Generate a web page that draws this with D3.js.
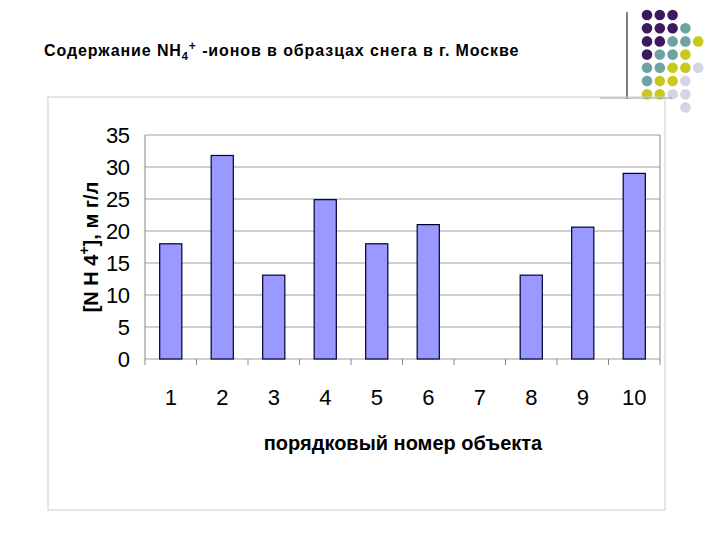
<!DOCTYPE html><html><head><meta charset="utf-8"><script src="https://d3js.org/d3.v7.min.js"></script>
<style>body{margin:0;background:#fff}</style></head><body><script>
const categories=["1","2","3","4","5","6","7","8","9","10"];
const values=[18,31.8,13.1,24.9,18,21,0,13.1,20.6,29];
const yTicks=[0,5,10,15,20,25,30,35];
const W=720,H=540;
const svg=d3.select("body").append("svg").attr("width",W).attr("height",H);
const font="Liberation Sans, Arial, sans-serif";
const P="#3d1a5e",T="#6fa3a3",Y="#c8c81e",L="#d4d4e6";
const dots=[[P,P,P],[P,P,P,T],[P,P,T,T,Y],[P,T,T,Y],[T,T,Y,Y,L],[T,Y,Y,L],[Y,Y,L,L],[null,null,null,L]];
dots.forEach((r,i)=>r.forEach((c,j)=>{if(c)svg.append("circle").attr("cx",647+j*12.8).attr("cy",15+i*13.2).attr("r",5.3).attr("fill",c);}));
svg.append("line").attr("x1",627).attr("x2",627).attr("y1",12).attr("y2",99).attr("stroke","#000");
svg.append("line").attr("x1",600).attr("x2",672).attr("y1",98).attr("y2",98).attr("stroke","#999");
svg.append("text").attr("x",44).attr("y",56).attr("font-family",font).attr("font-size",16).attr("font-weight","bold").attr("letter-spacing",0.9)
 .html('Содержание NH<tspan font-size="11" dy="4">4</tspan><tspan font-size="12" dy="-10">+</tspan><tspan dy="6"> -ионов в образцах снега в г. Москве</tspan>');
svg.append("rect").attr("x",48).attr("y",97).attr("width",617).attr("height",413).attr("fill","none").attr("stroke","#ccc");
const m={l:145,r:660,t:135,b:359};
const x=d3.scaleBand().domain(categories).range([m.l,m.r]).paddingInner(0.57).paddingOuter(0.285);
const y=d3.scaleLinear().domain([0,35]).range([m.b,m.t]);
const g=svg.append("g");
g.selectAll(".gl").data(yTicks).join("line").attr("x1",m.l).attr("x2",m.r).attr("y1",d=>y(d)).attr("y2",d=>y(d)).attr("stroke","#888").attr("stroke-width",0.8);
g.append("line").attr("x1",m.l).attr("x2",m.l).attr("y1",m.t).attr("y2",m.b).attr("stroke","#888");
g.append("line").attr("x1",m.r).attr("x2",m.r).attr("y1",m.t).attr("y2",m.b).attr("stroke","#888");
const step=(m.r-m.l)/10;
d3.range(11).forEach(i=>g.append("line").attr("x1",m.l+i*step).attr("x2",m.l+i*step).attr("y1",m.b).attr("y2",m.b+6).attr("stroke","#888"));
g.selectAll(".bar").data(values).join("rect").attr("x",(d,i)=>x(categories[i])).attr("width",x.bandwidth())
 .attr("y",d=>y(d)).attr("height",d=>m.b-y(d)).attr("fill","#9999ff").attr("stroke","#000033").attr("stroke-width",1.2);
g.selectAll(".yt").data(yTicks).join("text").attr("x",130).attr("y",d=>y(d)+8).attr("text-anchor","end")
 .attr("font-family",font).attr("font-size",22).attr("textLength",d=>String(d).length>1?24:12).text(d=>d);
g.selectAll(".xt").data(categories).join("text").attr("x",d=>x(d)+x.bandwidth()/2).attr("y",405).attr("text-anchor","middle")
 .attr("font-family",font).attr("font-size",22).text(d=>d);
svg.append("text").attr("x",403).attr("y",450).attr("text-anchor","middle").attr("font-family",font).attr("font-size",20).attr("font-weight","bold").text("порядковый номер объекта");
svg.append("text").attr("transform","translate(98,247) rotate(-90)").attr("text-anchor","middle").attr("font-family",font).attr("font-size",20).attr("font-weight","bold")
 .html('[N H 4<tspan font-size="14" dy="-9">+</tspan><tspan dy="9">], м г/л</tspan>');
</script></body></html>
